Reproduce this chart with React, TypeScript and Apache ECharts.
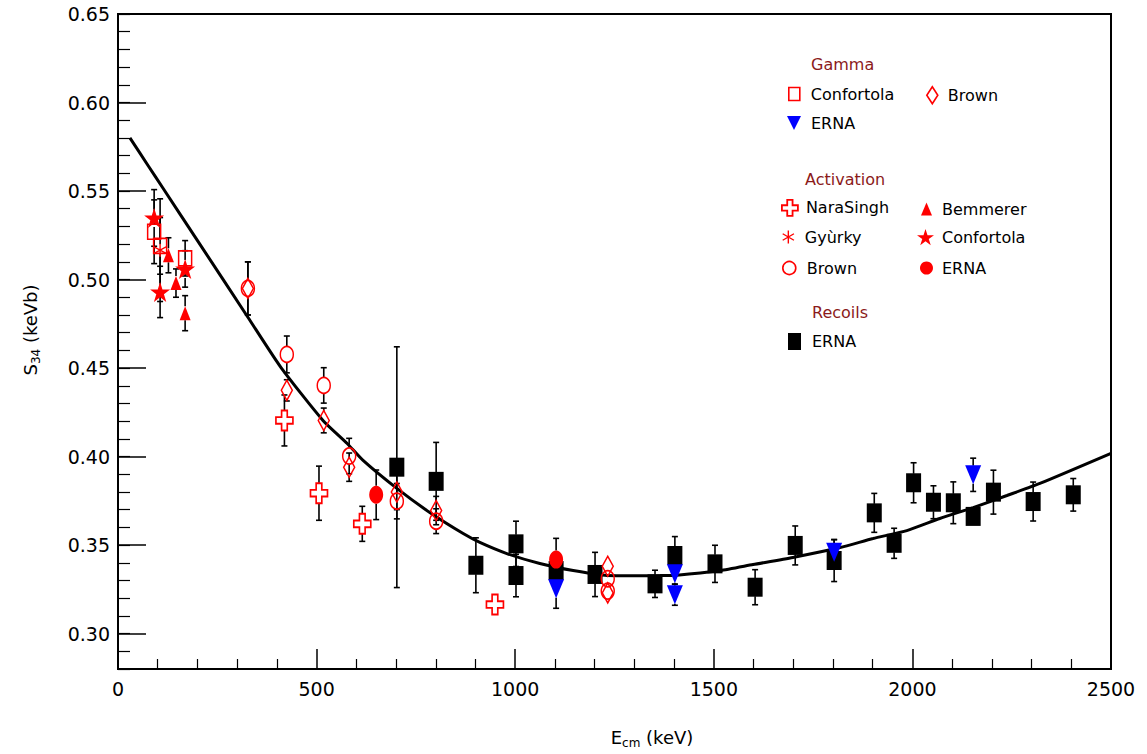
import React, { useEffect, useRef } from "react";
import * as echarts from "echarts";

// Theory curve
const curveE = [30, 76, 113, 201, 327, 410, 516, 577, 617, 702, 785, 869, 911, 979, 1062, 1146, 1231, 1300, 1365, 1407, 1516, 1599, 1699, 1818, 1901, 1986, 2069, 2153, 2238, 2321, 2500];
const curveS = [0.580, 0.5643, 0.5517, 0.5217, 0.4787, 0.4504, 0.4204, 0.4074, 0.3978, 0.382, 0.3684, 0.3565, 0.3515, 0.3452, 0.3396, 0.3356, 0.3328, 0.3327, 0.3328, 0.333, 0.3356, 0.339, 0.343, 0.3486, 0.3537, 0.3582, 0.365, 0.3712, 0.378, 0.3848, 0.4018];

// [E_cm (keV), S34 (keVb), error]
const gammaConfortola = [[91, 0.527, 0.018], [106, 0.519, 0.016], [169, 0.512, 0.010]];
const gammaBrown = [[327, 0.495, 0.015], [425, 0.4374, 0.006], [518, 0.4204, 0.007], [582, 0.394, 0.008], [702, 0.380, 0.010], [801, 0.3695, 0.008], [1233, 0.338, 0.004], [1233, 0.323, 0.004]];
const gammaErna = [[1103, 0.3253, 0.011], [1402, 0.3338, 0.006], [1402, 0.322, 0.006], [1803, 0.346, 0.007], [2153, 0.3897, 0.0094]];
const actNaraSingh = [[419, 0.4204, 0.0144], [506, 0.3793, 0.0153], [615, 0.362, 0.0099], [949, 0.3164, 0.004]];
const actGyurky = [[106, 0.5166, 0.029]];
const actBemmerer = [[127, 0.5137, 0.0099], [146, 0.498, 0.008], [169, 0.481, 0.0099]];
const actConfortola = [[91, 0.5348, 0.016], [106, 0.493, 0.0145], [169, 0.506, 0.0103]];
const actBrown = [[327, 0.495, 0.015], [425, 0.4577, 0.0104], [518, 0.4402, 0.010], [582, 0.4003, 0.010], [702, 0.3748, 0.010], [801, 0.3635, 0.007], [1233, 0.331, 0.004], [1233, 0.324, 0.004]];
const actErna = [[650, 0.3784, 0.014], [1103, 0.3418, 0.012]];
const recoilsErna = [[702, 0.394, 0.068], [801, 0.386, 0.022], [901, 0.3386, 0.0155], [1002, 0.3507, 0.0128], [1002, 0.3328, 0.012], [1103, 0.3356, 0.010], [1201, 0.3334, 0.0125], [1352, 0.3281, 0.0077], [1402, 0.3441, 0.0107], [1503, 0.3394, 0.0105], [1604, 0.3262, 0.0099], [1705, 0.3498, 0.011], [1803, 0.3413, 0.0119], [1904, 0.3682, 0.011], [1954, 0.351, 0.0085], [2003, 0.3852, 0.0113], [2053, 0.3742, 0.0093], [2103, 0.3739, 0.0118], [2153, 0.3662, 0.005], [2204, 0.3799, 0.0124], [2304, 0.3746, 0.011], [2405, 0.3784, 0.0092]];

const xTicks = [0, 500, 1000, 1500, 2000, 2500];

const FONT = "'DejaVu Sans', Verdana, sans-serif";
const RED = "#ff0000";
const DARKRED = "#8b1a1a";

const CROSS = "path://M-1,-3L1,-3L1,-1L3,-1L3,1L1,1L1,3L-1,3L-1,1L-3,1L-3,-1L-1,-1Z";
const ASTER = "path://M0,-5L0,5M-4.33,-2.5L4.33,2.5M-4.33,2.5L4.33,-2.5";
const STAR = "path://M0,-100L22.45,-30.9L95.1,-30.9L36.3,11.8L58.8,80.9L0,38.2L-58.8,80.9L-36.3,11.8L-95.1,-30.9L-22.45,-30.9Z";
const DOWNTRI = "path://M-1,-1L1,-1L0,1Z";

type Def = {
  name: string; label: string; data: number[][]; symbol: string; size: number[];
  itemStyle: any; gap: number;
  lg: { left: number; top: number; w: number; h: number; pad: number };
};

const hollow = { color: "transparent", borderColor: RED, borderWidth: 1.6, opacity: 1 };

const defs: Def[] = [
  { name: "Recoils ERNA", label: "ERNA", data: recoilsErna, symbol: "rect", size: [15, 19], itemStyle: { color: "#000", opacity: 1 }, gap: 9, lg: { left: 788, top: 333, w: 13, h: 17, pad: 6 } },
  { name: "Gamma Confortola", label: "Confortola", data: gammaConfortola, symbol: "rect", size: [13, 15], itemStyle: hollow, gap: 7, lg: { left: 788, top: 86, w: 11, h: 13, pad: 6 } },
  { name: "Gamma Brown", label: "Brown", data: gammaBrown, symbol: "diamond", size: [11, 20], itemStyle: hollow, gap: 9, lg: { left: 926, top: 86, w: 11, h: 17, pad: 5 } },
  { name: "Gamma ERNA", label: "ERNA", data: gammaErna, symbol: DOWNTRI, size: [16, 19], itemStyle: { color: "#0000ff", opacity: 1 }, gap: 9, lg: { left: 787, top: 115, w: 14, h: 16, pad: 5 } },
  { name: "NaraSingh", label: "NaraSingh", data: actNaraSingh, symbol: CROSS, size: [17, 20], itemStyle: { color: "#fff", borderColor: RED, borderWidth: 1.8, opacity: 1 }, gap: 10, lg: { left: 781, top: 199, w: 16, h: 16, pad: 3 } },
  { name: "Gyurky", label: "Gyùrky", data: actGyurky, symbol: ASTER, size: [12, 13], itemStyle: { color: "transparent", borderColor: RED, borderWidth: 1.4, opacity: 1 }, gap: 6, lg: { left: 782, top: 229, w: 13, h: 13, pad: 5 } },
  { name: "Activation Brown", label: "Brown", data: actBrown, symbol: "circle", size: [13, 16], itemStyle: hollow, gap: 8, lg: { left: 782, top: 260, w: 13, h: 13, pad: 6 } },
  { name: "Bemmerer", label: "Bemmerer", data: actBemmerer, symbol: "triangle", size: [11, 14], itemStyle: { color: RED, opacity: 1 }, gap: 7, lg: { left: 921, top: 201, w: 11, h: 13, pad: 5 } },
  { name: "Activation Confortola", label: "Confortola", data: actConfortola, symbol: STAR, size: [20, 20], itemStyle: { color: RED, opacity: 1 }, gap: 9, lg: { left: 917, top: 229, w: 17, h: 17, pad: 3 } },
  { name: "Activation ERNA", label: "ERNA", data: actErna, symbol: "circle", size: [14, 18], itemStyle: { color: RED, opacity: 1 }, gap: 9, lg: { left: 920, top: 260, w: 13, h: 13, pad: 4 } },
];

function buildOption() {
  const errData: number[][] = [];
  defs.forEach((d) => d.data.forEach((p) => errData.push([p[0], p[1], p[2], d.gap])));

  const scatter = defs.map((d) => ({
    type: "scatter",
    name: d.name,
    data: d.data.map((p) => [p[0], p[1]]),
    symbol: d.symbol,
    symbolSize: d.size,
    itemStyle: d.itemStyle,
    z: 3,
    silent: true,
  }));

  const legends = defs.map((d) => ({
    data: [d.name],
    left: d.lg.left,
    top: d.lg.top,
    padding: 0,
    itemWidth: d.lg.w,
    itemHeight: d.lg.h,
    selectedMode: false,
    formatter: () => d.label,
    itemStyle: d.itemStyle,
    textStyle: { color: "#000", fontSize: 16, fontFamily: FONT, padding: [0, 0, 0, d.lg.pad] },
  }));

  const heading = (text: string, x: number, y: number) => ({
    type: "text", x, y,
    style: { text, fill: DARKRED, font: `16px ${FONT}`, textVerticalAlign: "middle" },
  });

  return {
    animation: false,
    grid: { left: 118, right: 36, top: 14, bottom: 85, show: true, borderColor: "#000", borderWidth: 2 },
    xAxis: {
      type: "value", min: xTicks[0], max: xTicks[xTicks.length - 1], interval: 500,
      axisLine: { show: true, lineStyle: { color: "#000", width: 2 } },
      axisTick: { inside: true, length: 20, lineStyle: { color: "#000", width: 1.5 } },
      minorTick: { show: true, splitNumber: 5, length: 10, lineStyle: { color: "#000", width: 1.2 } },
      axisLabel: { color: "#000", fontSize: 19, fontFamily: FONT, margin: 10, formatter: (v: number) => String(v) },
      splitLine: { show: false },
    },
    yAxis: [
      {
        type: "value", min: 0.28, max: 0.65, splitNumber: 7,
        axisLine: { show: true, lineStyle: { color: "#000", width: 2 } },
        axisTick: { inside: true, length: 28, lineStyle: { color: "#000", width: 1.5 } },
        axisLabel: {
          color: "#000", fontSize: 19, fontFamily: FONT, margin: 8, showMinLabel: false,
          formatter: (v: number) => (Math.abs(v - 0.28) < 1e-6 ? "" : v.toFixed(2)),
        },
        splitLine: { show: false },
      },
      {
        type: "value", min: 0.28, max: 0.65, interval: 0.01, position: "left",
        axisLine: { show: false },
        axisTick: { inside: true, length: 12, lineStyle: { color: "#000", width: 1.2 } },
        axisLabel: { show: false },
        splitLine: { show: false },
      },
    ],
    legend: legends,
    graphic: [
      heading("Gamma", 811, 64),
      heading("Activation", 805, 179),
      heading("Recoils", 812, 312),
      {
        type: "text", x: 30, y: 330, rotation: Math.PI / 2,
        style: {
          text: "{a|S}{b|34}{a| (keVb)}", textAlign: "center", textVerticalAlign: "middle", fill: "#000",
          rich: { a: { fontSize: 18, fontFamily: FONT, fill: "#000" }, b: { fontSize: 12, fontFamily: FONT, fill: "#000", padding: [12, 0, 0, 0] } },
        },
      },
      {
        type: "text", x: 652, y: 737,
        style: {
          text: "{a|E}{b|cm}{a| (keV)}", textAlign: "center", textVerticalAlign: "middle", fill: "#000",
          rich: { a: { fontSize: 18, fontFamily: FONT, fill: "#000" }, b: { fontSize: 12, fontFamily: FONT, fill: "#000", padding: [12, 0, 0, 0] } },
        },
      },
    ],
    series: [
      {
        type: "line", name: "theory",
        data: curveE.map((e, i) => [e, curveS[i]]),
        symbol: "none", showSymbol: false, smooth: 0.2,
        lineStyle: { color: "#000", width: 3 }, z: 1, silent: true,
      },
      {
        type: "custom", name: "errors", data: errData, encode: { x: 0, y: 1 }, z: 2, silent: true,
        renderItem: (params: any, api: any) => {
          const x = api.value(0), y = api.value(1), e = api.value(2), g = api.value(3);
          const c = api.coord([x, y]);
          const t = api.coord([x, y + e]);
          const b = api.coord([x, y - e]);
          const st = { stroke: "#000", lineWidth: 1.6 };
          const cap = 3;
          const ch: any[] = [];
          if (c[1] - t[1] > g) {
            ch.push({ type: "line", shape: { x1: c[0], y1: t[1], x2: c[0], y2: c[1] - g }, style: st });
            ch.push({ type: "line", shape: { x1: c[0] - cap, y1: t[1], x2: c[0] + cap, y2: t[1] }, style: st });
          }
          if (b[1] - c[1] > g) {
            ch.push({ type: "line", shape: { x1: c[0], y1: c[1] + g, x2: c[0], y2: b[1] }, style: st });
            ch.push({ type: "line", shape: { x1: c[0] - cap, y1: b[1], x2: c[0] + cap, y2: b[1] }, style: st });
          }
          return { type: "group", children: ch };
        },
      },
      ...scatter,
    ],
  };
}

export default function App() {
  const ref = useRef<HTMLDivElement>(null);
  useEffect(() => {
    if (!ref.current) return;
    const chart = echarts.init(ref.current, undefined, { renderer: "svg" });
    chart.setOption(buildOption() as any);
    return () => chart.dispose();
  }, []);
  return (
    <div
      ref={ref}
      style={{ position: "fixed", left: 0, top: 0, width: 1147, height: 754, background: "#fff" }}
    />
  );
}
